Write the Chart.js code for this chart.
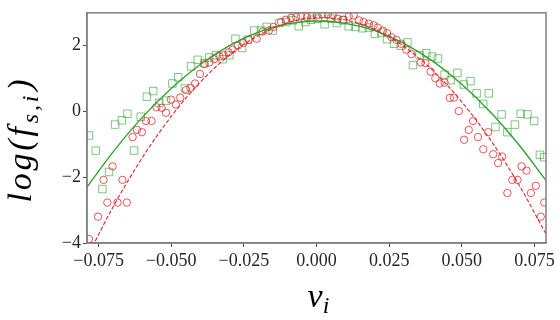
<!DOCTYPE html>
<html><head><meta charset="utf-8">
<script src="https://cdn.jsdelivr.net/npm/chart.js@4"></script>
<style>html,body{margin:0;padding:0;background:#fff}</style>
</head><body>
<canvas id="c" width="560" height="320" style="width:560px;height:320px"></canvas>
<script>
// Measured data (green squares)
const squaresX = [-0.0783,-0.0760,-0.0737,-0.0714,-0.0693,-0.0670,-0.0651,-0.0628,-0.0605,-0.0584,-0.0562,-0.0541,-0.0518,-0.0496,-0.0476,-0.0453,-0.0432,-0.0409,-0.0386,-0.0369,-0.0346,-0.0323,-0.0300,-0.0279,-0.0256,-0.0237,-0.0214,-0.0191,-0.0171,-0.0151,-0.0128,-0.0105,-0.0082,-0.0061,-0.0038,-0.0018,0.0004,0.0028,0.0051,0.0070,0.0091,0.0111,0.0134,0.0158,0.0180,0.0201,0.0223,0.0243,0.0267,0.0290,0.0313,0.0332,0.0355,0.0378,0.0398,0.0418,0.0441,0.0462,0.0485,0.0507,0.0530,0.0551,0.0574,0.0593,0.0616,0.0637,0.0657,0.0683,0.0703,0.0726,0.0749,0.0769,0.0784];
const squaresY = [-0.73,-1.19,-2.36,-1.84,-0.40,-0.27,-0.07,-1.19,-0.16,0.45,0.62,0.26,0.33,0.85,1.04,0.70,1.37,1.57,1.47,1.64,1.71,1.59,1.71,2.21,1.93,2.18,2.46,2.46,2.57,2.46,2.69,2.72,2.77,2.59,2.72,2.79,2.82,2.65,2.82,2.69,2.77,2.59,2.57,2.53,2.55,2.36,2.40,2.20,2.06,2.00,2.10,1.41,1.71,1.77,1.67,1.61,1.12,0.95,1.17,0.82,0.92,0.55,0.23,0.55,-0.47,-0.09,-0.63,-0.40,-0.07,-0.09,-0.29,-1.32,-1.39];
// Measured data (red circles)
const circlesX = [-0.0783,-0.0752,-0.0733,-0.0720,-0.0702,-0.0685,-0.0668,-0.0653,-0.0633,-0.0618,-0.0601,-0.0587,-0.0568,-0.0551,-0.0533,-0.0518,-0.0501,-0.0484,-0.0469,-0.0449,-0.0434,-0.0418,-0.0401,-0.0386,-0.0369,-0.0352,-0.0334,-0.0320,-0.0303,-0.0289,-0.0271,-0.0252,-0.0233,-0.0206,-0.0185,-0.0164,-0.0148,-0.0122,-0.0105,-0.0087,-0.0070,-0.0053,-0.0033,-0.0015,0.0001,0.0020,0.0039,0.0056,0.0073,0.0093,0.0111,0.0128,0.0146,0.0162,0.0180,0.0197,0.0211,0.0229,0.0243,0.0258,0.0275,0.0292,0.0309,0.0327,0.0359,0.0375,0.0393,0.0409,0.0424,0.0441,0.0459,0.0473,0.0490,0.0508,0.0524,0.0539,0.0556,0.0574,0.0591,0.0608,0.0625,0.0639,0.0657,0.0674,0.0692,0.0706,0.0723,0.0738,0.0755,0.0772,0.0784];
const circlesY = [-3.88,-3.20,-2.08,-2.77,-1.67,-2.77,-2.08,-2.77,-0.78,-0.56,-0.63,-0.29,-0.29,0.13,0.11,-0.04,0.36,0.21,0.42,0.65,0.72,0.85,1.14,1.44,1.49,1.59,1.67,1.71,1.80,1.88,2.00,2.08,2.18,2.21,2.43,2.46,2.57,2.72,2.79,2.85,2.87,2.89,2.87,2.92,2.92,2.95,2.95,2.92,2.82,2.79,2.89,2.92,2.77,2.72,2.67,2.62,2.55,2.46,2.38,2.26,2.18,2.06,1.88,1.74,1.49,1.47,1.21,1.01,0.85,0.88,0.41,0.42,0.01,-0.86,-0.56,-0.29,-0.78,-1.15,-0.63,-1.30,-1.57,-1.37,-2.48,-2.08,-2.08,-1.67,-1.80,-2.48,-2.26,-3.20,-2.77];
// Fit curves
const fitX = [-0.079,-0.07,-0.06,-0.05,-0.04,-0.03,-0.02,-0.01,0,0.01,0.02,0.03,0.04,0.05,0.06,0.07,0.079];
const greenFitY = [-2.30,-1.23,-0.18,0.70,1.43,2.00,2.41,2.66,2.75,2.68,2.46,2.07,1.53,0.83,-0.03,-1.05,-2.10];
const redFitY = [-4.43,-2.90,-1.41,-0.15,0.89,1.71,2.31,2.69,2.85,2.78,2.49,1.98,1.25,0.29,-0.88,-2.28,-3.73];
// Axis ticks / labels
const xTicks = [-0.075,-0.050,-0.025,0.000,0.025,0.050,0.075];
const yTicks = [-4,-2,0,2];
const xTitleMain = 'v', xTitleSub = 'i';
const yTitleMain = 'log(f', yTitleSub = 's,i', yTitleEnd = ')';

const pts = (xs, ys) => xs.map((x, i) => ({x, y: ys[i]}));
const minusFix = s => s.replace('-', '\u2212');

const frame = {
  id: 'frame',
  afterDraw(chart) {
    const {ctx, chartArea: a} = chart;
    ctx.save();
    ctx.strokeStyle = '#808080';
    ctx.lineWidth = 1.5;
    ctx.strokeRect(a.left, a.top, a.right - a.left, a.bottom - a.top);
    ctx.restore();
  }
};
const titles = {
  id: 'titles',
  afterDraw(chart) {
    const ctx = chart.ctx;
    const big = 'italic 34px "Liberation Serif"', small = 'italic 24px "Liberation Serif"';
    ctx.save();
    ctx.fillStyle = '#000';
    ctx.textBaseline = 'alphabetic';
    ctx.textAlign = 'left';
    // x title
    ctx.font = big; const w1 = ctx.measureText(xTitleMain).width;
    ctx.font = small; const w2 = ctx.measureText(xTitleSub).width;
    const cx = (chart.chartArea.left + chart.chartArea.right) / 2;
    let x0 = cx - (w1 + w2) / 2 + 2;
    ctx.font = big; ctx.fillText(xTitleMain, x0, 307);
    ctx.font = small; ctx.fillText(xTitleSub, x0 + w1, 313);
    // y title (letter-spaced to the reference's length)
    ctx.font = big; let a1 = ctx.measureText(yTitleMain).width; const a3 = ctx.measureText(yTitleEnd).width;
    ctx.font = small; let a2 = ctx.measureText(yTitleSub).width;
    const natural = a1 + a2 + a3 + 3;
    const sp = Math.max(0, (126 - natural) / 9);
    if ('letterSpacing' in ctx) {
      ctx.letterSpacing = sp + 'px';
      ctx.font = big; a1 = ctx.measureText(yTitleMain).width;
      ctx.font = small; a2 = ctx.measureText(yTitleSub).width;
    }
    const tot = a1 + a2 + a3 + 3;
    ctx.translate(31, 141);
    ctx.rotate(-Math.PI / 2);
    let s = -tot / 2;
    ctx.font = big; ctx.fillText(yTitleMain, s, 0);
    ctx.font = small; ctx.fillText(yTitleSub, s + a1 + 1, 7);
    ctx.font = big; ctx.fillText(yTitleEnd, s + a1 + a2 + 3, 0);
    ctx.restore();
  }
};

new Chart(document.getElementById('c'), {
  type: 'scatter',
  data: {
    datasets: [
      {label: 'green', data: pts(squaresX, squaresY), pointStyle: 'rect', pointRadius: 5.3,
       borderColor: 'rgba(44,160,44,0.6)', backgroundColor: 'rgba(0,0,0,0)', borderWidth: 1, showLine: false, order: 4},
      {label: 'red', data: pts(circlesX, circlesY), pointStyle: 'circle', pointRadius: 3.7,
       borderColor: 'rgba(232,20,30,0.72)', backgroundColor: 'rgba(0,0,0,0)', borderWidth: 1, showLine: false, order: 3},
      {label: 'greenfit', data: pts(fitX, greenFitY), showLine: true, pointRadius: 0, borderColor: '#2ca02c',
       borderWidth: 1.3, cubicInterpolationMode: 'monotone', order: 2},
      {label: 'redfit', data: pts(fitX, redFitY), showLine: true, pointRadius: 0, borderColor: '#e3242b',
       borderWidth: 1.1, borderDash: [4, 2], cubicInterpolationMode: 'monotone', order: 1}
    ]
  },
  options: {
    responsive: false,
    animation: false,
    layout: {padding: {top: 6, right: 14, left: 0, bottom: 0}},
    plugins: {legend: {display: false}, tooltip: {enabled: false}},
    scales: {
      x: {
        type: 'linear', min: -0.079, max: 0.079,
        afterFit: s => { s.height = 77; },
        afterBuildTicks: s => { s.ticks = xTicks.map(v => ({value: v})); },
        ticks: {callback: v => minusFix(Number(v).toFixed(3)), font: {family: 'Liberation Serif', size: 18},
                color: '#262626', padding: 3, maxRotation: 0, autoSkip: false},
        grid: {drawOnChartArea: false, drawTicks: true, tickLength: 4, color: '#444'},
        border: {display: true, color: '#808080', width: 1.5}
      },
      y: {
        type: 'linear', min: -4, max: 3,
        afterFit: s => { s.width = 87; },
        afterBuildTicks: s => { s.ticks = yTicks.map(v => ({value: v})); },
        ticks: {callback: v => minusFix(String(v)), font: {family: 'Liberation Serif', size: 18},
                color: '#262626', padding: 2, autoSkip: false},
        grid: {drawOnChartArea: false, drawTicks: true, tickLength: 4, color: '#444'},
        border: {display: true, color: '#808080', width: 1.5}
      }
    }
  },
  plugins: [frame, titles]
});
</script>
</body></html>
